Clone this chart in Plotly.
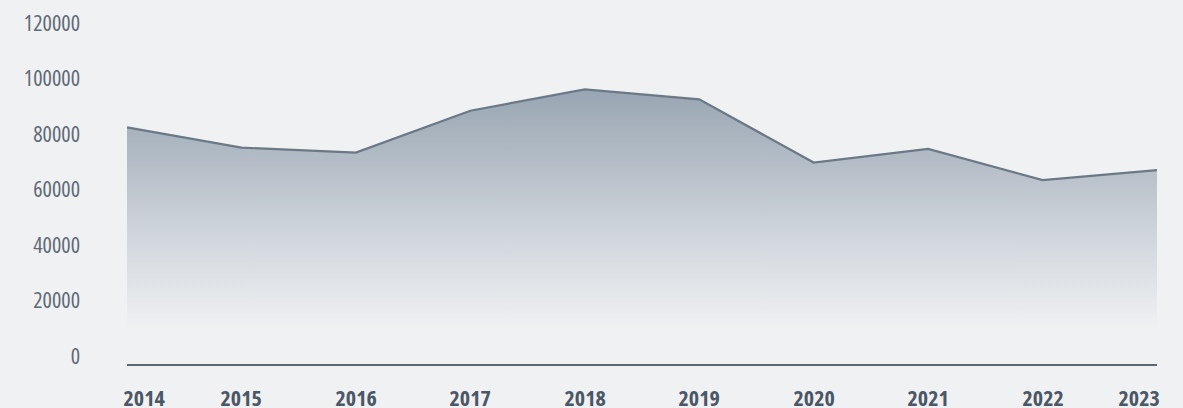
import plotly.graph_objects as go

years = [2014, 2015, 2016, 2017, 2018, 2019, 2020, 2021, 2022, 2023]
values = [82400, 75100, 73300, 88400, 96100, 92500, 69700, 74600, 63400, 67000]
y_ticks = [0, 20000, 40000, 60000, 80000, 100000, 120000]

BG = "#F0F1F3"
LINE = "#6B7885"
YLAB = "#5E6A76"
XLAB = "#4B5764"
FONT = "Open Sans, sans-serif"

fig = go.Figure()
fig.add_trace(go.Scatter(
    x=years, y=values, mode="lines",
    line=dict(color=LINE, width=2.2),
    fill="tozeroy",
    fillgradient=dict(
        type="vertical",
        colorscale=[[0, "rgba(240,241,243,1)"], [0.35, "rgba(212,217,223,1)"], [1, "rgba(152,165,178,1)"]],
        start=9000, stop=max(values),
    ),
    hoverinfo="skip",
    showlegend=False,
))

n = len(years)
for i, yr in enumerate(years):
    shift = 17 if i == 0 else (-18 if i == n - 1 else 0)
    fig.add_annotation(
        x=yr, y=0, xref="x", yref="paper", text=str(yr),
        showarrow=False, xanchor="center", xshift=shift, yanchor="middle", yshift=-33,
        font=dict(family=FONT, size=22, color=XLAB, weight="bold"),
    )

fig.update_layout(
    width=1183, height=408,
    margin=dict(l=127, r=26, t=23, b=44, autoexpand=False),
    paper_bgcolor=BG, plot_bgcolor=BG,
    xaxis=dict(range=[years[0], years[-1]], showgrid=False, zeroline=False,
               showticklabels=False, showline=True, linecolor="#5B6773", linewidth=1.5,
               ticks="", automargin=False),
    yaxis=dict(range=[-2883, 120000], tickvals=y_ticks, ticktext=[str(v) for v in y_ticks],
               showgrid=False, zeroline=False, showline=False, ticks="",
               tickfont=dict(family=FONT, size=22, color=YLAB),
               ticklabelstandoff=46, automargin=False),
)

post = """
document.body.style.margin='0';
document.querySelectorAll('svg text').forEach(function(t){t.style.fontStretch='75%';});
"""
fig.write_html("out.html", post_script=post, config={"displayModeBar": False})
